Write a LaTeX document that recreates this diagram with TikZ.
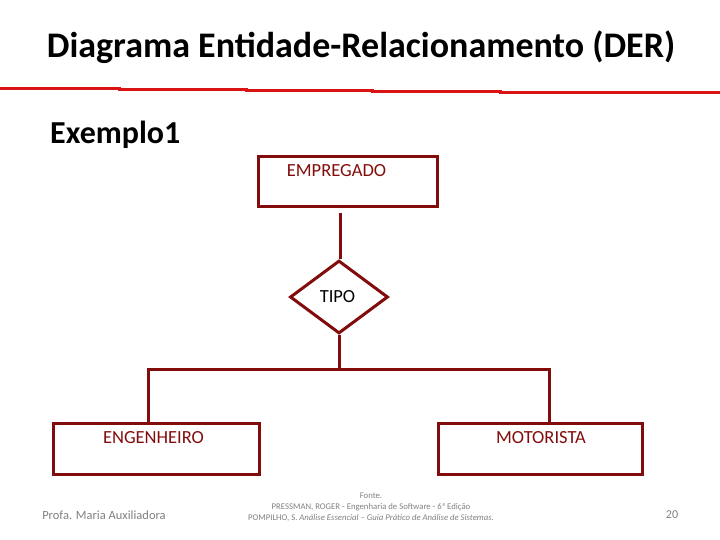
\documentclass[tikz,border=0pt]{standalone}
\usepackage{fontspec}
\setmainfont{Carlito}
\usetikzlibrary{shapes.geometric}
\definecolor{maroon}{RGB}{130,12,12}
\definecolor{redline}{RGB}{218,20,20}
\definecolor{foot}{RGB}{128,128,128}
\tikzset{
  entity/.style={draw=maroon, line width=3pt, minimum width=#1, minimum height=50pt, inner sep=0pt},
  rel/.style={draw=maroon, line width=3pt, diamond, minimum width=98pt, minimum height=73pt, inner sep=0pt},
  lbl/.style={font=\fontsize{18.5}{20}\selectfont, text=maroon, inner sep=0pt},
  conn/.style={draw=maroon, line width=3pt},
  foottext/.style={text=foot, inner sep=0pt}
}
\begin{document}
\begin{tikzpicture}[x=1pt, y=-1pt]
\useasboundingbox (0,0) rectangle (720,540);
% title
\node[inner sep=0pt, font=\fontsize{36}{39}\selectfont\bfseries] (title) at (361,47) {Diagrama Entidade-Relacionamento (DER)};
% stepped red rule
\draw[redline, line width=3pt] (0,89) -- (119,89) -- (119,89.8) -- (246,89.8) -- (246,90.6) -- (372,90.6) -- (372,91.4) -- (500,91.4) -- (500,92.2) -- (627,92.2) -- (627,93) -- (720,93);
% subtitle
\node[inner sep=0pt, anchor=west, font=\fontsize{32}{34}\selectfont\bfseries] (ex) at (50,135) {Exemplo1};
% entities
\node[entity=179pt] (emp) at (347.5,182) {};
\node[lbl] (empl) at (336.5,171) {EMPREGADO};
\node[rel] (tipo) at (339,297) {};
\node[font=\fontsize{18.5}{20}\selectfont, inner sep=0pt] (tipol) at (337.5,297) {TIPO};
\node[entity=206pt, minimum height=51pt] (eng) at (156,448.5) {};
\node[lbl] (engl) at (153.5,438) {ENGENHEIRO};
\node[entity=204pt, minimum height=51pt] (mot) at (540,448.5) {};
\node[lbl] (motl) at (541,438) {MOTORISTA};
% connectors
\coordinate (j) at (340,369);
\coordinate (cl) at (148,369);
\coordinate (cr) at (549,369);
\draw[conn] (emp.south) ++(-7.5,5) coordinate (es) -- (es |- tipo.north);
\draw[conn] (tipo.south) -- (tipo.south |- j);
\draw[conn, line join=miter] (cl |- eng.north) -- (cl) -- (cr) -- (cr |- mot.north);
% footer
\node[foottext, font=\fontsize{12.5}{14}\selectfont] (prof) at (104,515) {Profa. Maria Auxiliadora};
\node[foottext, font=\fontsize{8.7}{11}\selectfont, align=center] (fonte) at (371,507) {Fonte.\\PRESSMAN, ROGER - Engenharia de Software - 6ª Edição\\POMPILHO, S. \textit{Análise Essencial – Guia Prático de Análise de Sistemas.}};
\node[foottext, font=\fontsize{12}{14}\selectfont] (num) at (672,515) {20};
\end{tikzpicture}
\end{document}
